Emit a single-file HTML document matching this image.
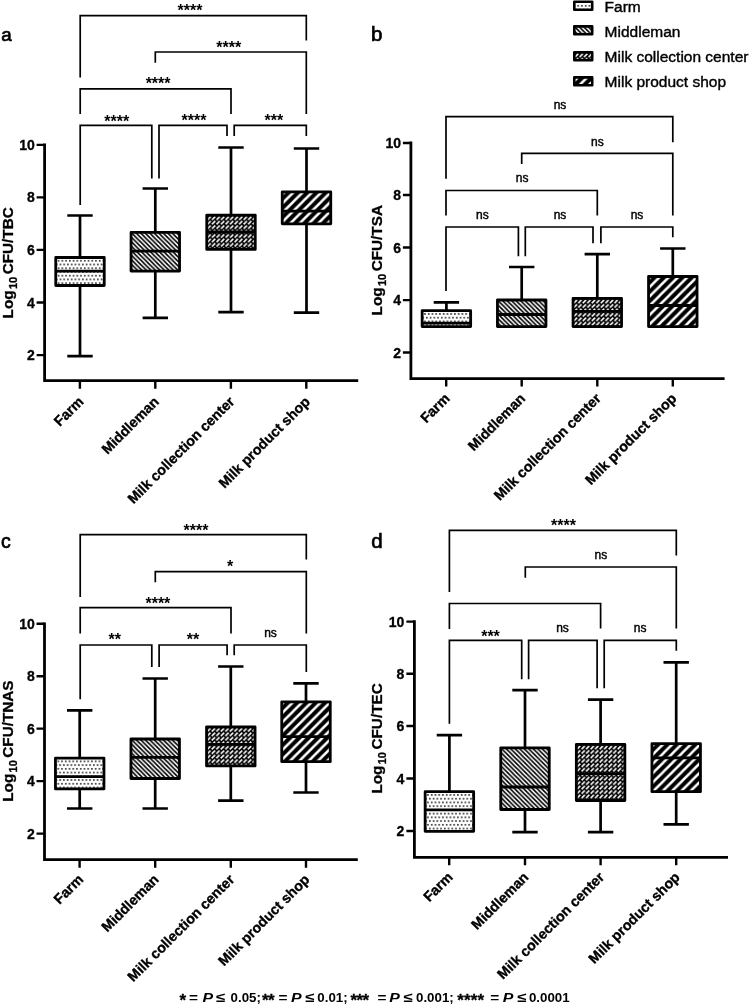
<!DOCTYPE html>
<html lang="en"><head><meta charset="utf-8"><title>Figure</title>
<style>
html,body{margin:0;padding:0;background:#fff;}
body{width:749px;height:1006px;overflow:hidden;}
svg{display:block;filter:grayscale(1);}
text{font-family:"Liberation Sans", sans-serif;fill:#000;}
.w{fill:none;stroke:#000;stroke-width:2.7;stroke-linecap:butt;}
.b{stroke:#000;stroke-width:2.8;stroke-linejoin:round;}
.m{fill:none;stroke:#000;stroke-width:2.8;}
.a{fill:none;stroke:#000;stroke-width:2.8;stroke-linecap:butt;}
.t{fill:none;stroke:#000;stroke-width:2.4;}
.k{fill:none;stroke:#000;stroke-width:1.7;stroke-linejoin:miter;}
.tl{font-size:14px;font-weight:bold;text-anchor:end;stroke:#000;stroke-width:0.3px;}
.yl{font-size:15.3px;font-weight:bold;stroke:#000;stroke-width:0.3px;}
.sub{font-size:11px;}
.xl{font-size:14.2px;font-weight:bold;text-anchor:end;stroke:#000;stroke-width:0.35px;}
.st{font-size:16px;font-weight:bold;text-anchor:middle;}
.ns{font-size:12px;text-anchor:middle;stroke:#000;stroke-width:0.42px;}
.lg{font-size:15.5px;stroke:#000;stroke-width:0.4px;}
.pl{font-size:18.8px;stroke:#000;stroke-width:0.7px;}
.ft{font-size:13.3px;font-weight:bold;}
.fs{font-size:17px;font-weight:bold;stroke:#000;stroke-width:0.3px;}
</style></head><body>
<svg width="749" height="1006" viewBox="0 0 749 1006">
<defs>
<pattern id="pDot" patternUnits="userSpaceOnUse" x="1.98" y="2.38" width="3.74" height="7.46">
<rect width="3.74" height="7.46" fill="#fff"/>
<circle cx="0.85" cy="0.85" r="0.82" fill="#000"/>
<circle cx="2.72" cy="4.58" r="0.82" fill="#000"/>
</pattern>
<pattern id="pBack" patternUnits="userSpaceOnUse" width="4.5" height="4.5">
<rect width="4.5" height="4.5" fill="#fff"/>
<path d="M-1.125 -1.125L5.625 5.625M-1.125 3.375L1.125 5.625M3.375 -1.125L5.625 1.125" stroke="#000" stroke-width="1.6"/>
</pattern>
<pattern id="pDash" patternUnits="userSpaceOnUse" x="0.1" y="0.9" width="4.52" height="4.45">
<rect width="4.52" height="4.45" fill="#000"/>
<path d="M0.6 3.85L3.9 0.55" stroke="#fff" stroke-width="1.6"/>
</pattern>
<pattern id="pFwd" patternUnits="userSpaceOnUse" x="2.35" y="0" width="9.3" height="9.3">
<rect width="9.3" height="9.3" fill="#000"/>
<path d="M-2.325 2.325L2.325 -2.325M-2.325 11.625L11.625 -2.325M6.975 11.625L11.625 6.975" stroke="#fff" stroke-width="2.5"/>
</pattern>
<pattern id="pDotL" href="#pDot" x="3.05" y="3.1"/>
<pattern id="pFwdL" href="#pFwd" x="3.6" y="0"/>
</defs>
<rect width="749" height="1006" fill="#fff"/>

<g id="pa">
<text x="1.3" y="40.7" class="pl">a</text>
<path d="M44.60 143.50V380.70H358.20" class="a" stroke-linejoin="miter"/>
<path d="M36.60 144.90H44.60M36.60 197.40H44.60M36.60 249.90H44.60M36.60 302.50H44.60M36.60 355.10H44.60M79.90 380.70V388.70M155.30 380.70V388.70M230.90 380.70V388.70M306.30 380.70V388.70" class="t"/>
<text x="34.80" y="149.90" class="tl">10</text>
<text x="34.80" y="202.40" class="tl">8</text>
<text x="34.80" y="254.90" class="tl">6</text>
<text x="34.80" y="307.50" class="tl">4</text>
<text x="34.80" y="360.10" class="tl">2</text>
<text transform="translate(13.00 318.40) rotate(-90)" class="yl">Log<tspan class="sub" dx="1.3" dy="3.8">10</tspan><tspan dx="-1.8" dy="-3.8"> CFU/TBC</tspan></text>
<text transform="translate(84.40 402.50) rotate(-45)" class="xl">Farm</text>
<text transform="translate(159.80 402.50) rotate(-45)" class="xl">Middleman</text>
<text transform="translate(235.40 402.50) rotate(-45)" class="xl">Milk collection center</text>
<text transform="translate(310.80 402.50) rotate(-45)" class="xl">Milk product shop</text>
<path d="M67.30 215.50H92.70M80.00 215.50V257.50" class="w"/><path d="M67.30 356.10H92.70M80.00 356.10V285.50" class="w"/><g transform="translate(55.75 257.50)"><rect x="0" y="0" width="48.50" height="28.00" fill="url(#pDot)" class="b"/></g><path d="M55.75 271.20H104.25" class="m"/>
<path d="M142.60 188.50H168.00M155.30 188.50V232.40" class="w"/><path d="M142.60 317.80H168.00M155.30 317.80V271.10" class="w"/><g transform="translate(131.05 232.40)"><rect x="0" y="0" width="48.50" height="38.70" fill="url(#pBack)" class="b"/></g><path d="M131.05 251.20H179.55" class="m"/>
<path d="M218.30 147.50H243.70M231.00 147.50V215.10" class="w"/><path d="M218.30 312.20H243.70M231.00 312.20V249.40" class="w"/><g transform="translate(206.75 215.10)"><rect x="0" y="0" width="48.50" height="34.30" fill="url(#pDash)" class="b"/></g><path d="M206.75 232.00H255.25" class="m"/>
<path d="M293.80 148.50H319.20M306.50 148.50V191.90" class="w"/><path d="M293.80 312.70H319.20M306.50 312.70V223.80" class="w"/><g transform="translate(282.25 191.90)"><rect x="0" y="0" width="48.50" height="31.90" fill="url(#pFwd)" class="b"/></g><path d="M282.25 211.10H330.75" class="m"/>
<path d="M80.20 77.40V15.70H306.30V40.60" class="k"/>
<text x="190.00" y="15.90" class="st">****</text>
<path d="M155.30 62.70V52.00H306.30V114.00" class="k"/>
<text x="228.70" y="53.40" class="st">****</text>
<path d="M80.20 114.00V88.80H231.00V114.00" class="k"/>
<text x="158.10" y="89.40" class="st">****</text>
<path d="M80.20 205.00V125.30H151.80V178.50" class="k"/>
<text x="116.80" y="126.60" class="st">****</text>
<path d="M159.00 178.50V125.30H227.00V136.00" class="k"/>
<text x="194.00" y="126.20" class="st">****</text>
<path d="M234.20 136.00V125.30H306.30V136.00" class="k"/>
<text x="273.80" y="126.00" class="st">***</text>
</g>
<g id="pb">
<text x="370.9" y="40.5" class="pl" style="font-size:20.5px">b</text>
<path d="M410.90 141.60V378.60H724.60" class="a" stroke-linejoin="miter"/>
<path d="M402.90 143.00H410.90M402.90 195.00H410.90M402.90 247.50H410.90M402.90 300.10H410.90M402.90 352.50H410.90M446.20 378.60V386.60M521.70 378.60V386.60M597.30 378.60V386.60M672.80 378.60V386.60" class="t"/>
<text x="401.00" y="148.00" class="tl">10</text>
<text x="401.00" y="200.00" class="tl">8</text>
<text x="401.00" y="252.50" class="tl">6</text>
<text x="401.00" y="305.10" class="tl">4</text>
<text x="401.00" y="357.50" class="tl">2</text>
<text transform="translate(382.40 315.40) rotate(-90)" class="yl">Log<tspan class="sub" dx="1.3" dy="3.8">10</tspan><tspan dx="-1.8" dy="-3.8"> CFU/TSA</tspan></text>
<text transform="translate(450.70 399.30) rotate(-45)" class="xl">Farm</text>
<text transform="translate(526.20 399.30) rotate(-45)" class="xl">Middleman</text>
<text transform="translate(601.80 399.30) rotate(-45)" class="xl">Milk collection center</text>
<text transform="translate(677.30 399.30) rotate(-45)" class="xl">Milk product shop</text>
<path d="M433.70 302.40H459.10M446.40 302.40V310.70" class="w"/><g transform="translate(422.15 310.70)"><rect x="0" y="0" width="48.50" height="15.90" fill="url(#pDot)" class="b"/></g><path d="M422.15 323.20H470.65" class="m"/>
<path d="M509.00 267.00H534.40M521.70 267.00V300.00" class="w"/><g transform="translate(497.45 300.00)"><rect x="0" y="0" width="48.50" height="26.60" fill="url(#pBack)" class="b"/></g><path d="M497.45 314.50H545.95" class="m"/>
<path d="M584.60 254.20H610.00M597.30 254.20V298.40" class="w"/><g transform="translate(573.05 298.40)"><rect x="0" y="0" width="48.50" height="28.20" fill="url(#pDash)" class="b"/></g><path d="M573.05 311.30H621.55" class="m"/>
<path d="M660.10 248.50H685.50M672.80 248.50V276.50" class="w"/><g transform="translate(648.55 276.50)"><rect x="0" y="0" width="48.50" height="50.10" fill="url(#pFwd)" class="b"/></g><path d="M648.55 305.50H697.05" class="m"/>
<path d="M446.00 178.80V116.60H672.80V142.20" class="k"/>
<text x="560.00" y="109.20" class="ns">ns</text>
<path d="M521.70 164.00V153.30H672.80V215.40" class="k"/>
<text x="597.30" y="145.50" class="ns">ns</text>
<path d="M446.00 215.60V190.50H597.30V215.40" class="k"/>
<text x="522.20" y="182.10" class="ns">ns</text>
<path d="M446.00 291.00V227.00H518.40V256.30" class="k"/>
<text x="482.40" y="218.90" class="ns">ns</text>
<path d="M525.30 256.30V227.00H593.00V243.20" class="k"/>
<text x="560.00" y="218.90" class="ns">ns</text>
<path d="M600.90 243.20V227.00H672.80V237.30" class="k"/>
<text x="637.00" y="218.90" class="ns">ns</text>
</g>
<g id="lg">
<g transform="translate(574.3 1.80)"><rect x="0" y="0" width="17.9" height="7.9" fill="url(#pDotL)" stroke="#000" stroke-width="2.6" stroke-linejoin="round"/></g>
<text x="604.6" y="11.65" class="lg">Farm</text>
<g transform="translate(574.3 26.40)"><rect x="0" y="0" width="17.9" height="7.9" fill="url(#pBack)" stroke="#000" stroke-width="2.6" stroke-linejoin="round"/></g>
<text x="604.6" y="36.67" class="lg">Middleman</text>
<g transform="translate(574.3 52.30)"><rect x="0" y="0" width="17.9" height="7.9" fill="url(#pDash)" stroke="#000" stroke-width="2.6" stroke-linejoin="round"/></g>
<text x="604.6" y="61.69" class="lg">Milk collection center</text>
<g transform="translate(574.3 77.40)"><rect x="0" y="0" width="17.9" height="7.9" fill="url(#pFwdL)" stroke="#000" stroke-width="2.6" stroke-linejoin="round"/></g>
<text x="604.6" y="86.71" class="lg">Milk product shop</text>
</g>
<g id="pc">
<text x="0.9" y="547.6" class="pl" style="font-size:19.5px">c</text>
<path d="M44.50 622.40V859.70H357.80" class="a" stroke-linejoin="miter"/>
<path d="M36.50 623.80H44.50M36.50 676.20H44.50M36.50 728.60H44.50M36.50 781.10H44.50M36.50 833.60H44.50M79.60 859.70V867.70M155.20 859.70V867.70M230.80 859.70V867.70M306.00 859.70V867.70" class="t"/>
<text x="34.80" y="628.80" class="tl">10</text>
<text x="34.80" y="681.20" class="tl">8</text>
<text x="34.80" y="733.60" class="tl">6</text>
<text x="34.80" y="786.10" class="tl">4</text>
<text x="34.80" y="838.60" class="tl">2</text>
<text transform="translate(12.80 801.80) rotate(-90)" class="yl">Log<tspan class="sub" dx="1.3" dy="3.8">10</tspan><tspan dx="-1.8" dy="-3.8"> CFU/TNAS</tspan></text>
<text transform="translate(84.10 880.40) rotate(-45)" class="xl">Farm</text>
<text transform="translate(159.70 880.40) rotate(-45)" class="xl">Middleman</text>
<text transform="translate(235.30 880.40) rotate(-45)" class="xl">Milk collection center</text>
<text transform="translate(310.50 880.40) rotate(-45)" class="xl">Milk product shop</text>
<path d="M67.00 710.30H92.40M79.70 710.30V758.10" class="w"/><path d="M67.00 808.50H92.40M79.70 808.50V788.90" class="w"/><g transform="translate(55.45 758.10)"><rect x="0" y="0" width="48.50" height="30.80" fill="url(#pDot)" class="b"/></g><path d="M55.45 776.70H103.95" class="m"/>
<path d="M142.50 678.50H167.90M155.20 678.50V739.00" class="w"/><path d="M142.50 808.50H167.90M155.20 808.50V778.50" class="w"/><g transform="translate(130.95 739.00)"><rect x="0" y="0" width="48.50" height="39.50" fill="url(#pBack)" class="b"/></g><path d="M130.95 757.30H179.45" class="m"/>
<path d="M218.10 666.50H243.50M230.80 666.50V726.80" class="w"/><path d="M218.10 800.70H243.50M230.80 800.70V765.90" class="w"/><g transform="translate(206.55 726.80)"><rect x="0" y="0" width="48.50" height="39.10" fill="url(#pDash)" class="b"/></g><path d="M206.55 744.40H255.05" class="m"/>
<path d="M293.30 683.40H318.70M306.00 683.40V701.80" class="w"/><path d="M293.30 792.50H318.70M306.00 792.50V761.70" class="w"/><g transform="translate(281.75 701.80)"><rect x="0" y="0" width="48.50" height="59.90" fill="url(#pFwd)" class="b"/></g><path d="M281.75 736.60H330.25" class="m"/>
<path d="M80.20 597.00V534.60H306.30V559.50" class="k"/>
<text x="196.00" y="535.90" class="st">****</text>
<path d="M155.30 582.30V571.70H306.30V633.60" class="k"/>
<text x="230.20" y="572.40" class="st">*</text>
<path d="M80.20 633.60V607.70H231.00V633.40" class="k"/>
<text x="157.90" y="609.00" class="st">****</text>
<path d="M80.20 699.20V645.00H151.80V666.90" class="k"/>
<text x="114.70" y="645.40" class="st">**</text>
<path d="M159.10 666.90V645.00H227.10V655.30" class="k"/>
<text x="193.10" y="645.40" class="st">**</text>
<path d="M234.20 655.30V645.00H306.30V672.00" class="k"/>
<text x="270.50" y="636.80" class="ns">ns</text>
</g>
<g id="pd">
<text x="371.3" y="548.0" class="pl" style="font-size:20.5px">d</text>
<path d="M414.40 620.20V857.30H728.00" class="a" stroke-linejoin="miter"/>
<path d="M406.40 621.60H414.40M406.40 673.70H414.40M406.40 726.00H414.40M406.40 778.50H414.40M406.40 831.00H414.40M449.20 857.30V865.30M525.00 857.30V865.30M600.60 857.30V865.30M676.20 857.30V865.30" class="t"/>
<text x="404.30" y="626.60" class="tl">10</text>
<text x="404.30" y="678.70" class="tl">8</text>
<text x="404.30" y="731.00" class="tl">6</text>
<text x="404.30" y="783.50" class="tl">4</text>
<text x="404.30" y="836.00" class="tl">2</text>
<text transform="translate(382.40 793.60) rotate(-90)" class="yl">Log<tspan class="sub" dx="1.3" dy="3.8">10</tspan><tspan dx="-1.8" dy="-3.8"> CFU/TEC</tspan></text>
<text transform="translate(453.70 878.00) rotate(-45)" class="xl">Farm</text>
<text transform="translate(529.50 878.00) rotate(-45)" class="xl">Middleman</text>
<text transform="translate(605.10 878.00) rotate(-45)" class="xl">Milk collection center</text>
<text transform="translate(680.70 878.00) rotate(-45)" class="xl">Milk product shop</text>
<path d="M436.70 735.10H462.10M449.40 735.10V791.70" class="w"/><g transform="translate(425.15 791.70)"><rect x="0" y="0" width="48.50" height="39.60" fill="url(#pDot)" class="b"/></g><path d="M425.15 809.80H473.65" class="m"/>
<path d="M512.30 690.10H537.70M525.00 690.10V747.80" class="w"/><path d="M512.30 832.20H537.70M525.00 832.20V809.50" class="w"/><g transform="translate(500.75 747.80)"><rect x="0" y="0" width="48.50" height="61.70" fill="url(#pBack)" class="b"/></g><path d="M500.75 787.00H549.25" class="m"/>
<path d="M587.90 699.70H613.30M600.60 699.70V744.40" class="w"/><path d="M587.90 832.10H613.30M600.60 832.10V800.50" class="w"/><g transform="translate(576.35 744.40)"><rect x="0" y="0" width="48.50" height="56.10" fill="url(#pDash)" class="b"/></g><path d="M576.35 773.70H624.85" class="m"/>
<path d="M663.50 662.40H688.90M676.20 662.40V743.70" class="w"/><path d="M663.50 824.30H688.90M676.20 824.30V791.70" class="w"/><g transform="translate(651.95 743.70)"><rect x="0" y="0" width="48.50" height="48.00" fill="url(#pFwd)" class="b"/></g><path d="M651.95 757.90H700.45" class="m"/>
<path d="M449.40 592.00V530.40H676.30V555.50" class="k"/>
<text x="563.50" y="530.90" class="st">****</text>
<path d="M525.30 577.80V567.00H676.30V628.60" class="k"/>
<text x="600.90" y="559.20" class="ns">ns</text>
<path d="M449.40 628.90V603.50H600.60V628.60" class="k"/>
<path d="M449.40 723.70V640.40H521.70V679.30" class="k"/>
<text x="490.50" y="641.60" class="st">***</text>
<path d="M528.60 679.30V640.40H597.10V688.30" class="k"/>
<text x="562.50" y="631.90" class="ns">ns</text>
<path d="M604.20 688.30V640.40H676.30V650.80" class="k"/>
<text x="640.20" y="631.90" class="ns">ns</text>
</g>
<g id="ft">
<text x="179.60" y="1006.20" class="fs" textLength="6.60" lengthAdjust="spacing">*</text>
<text x="189.00" y="1001.90" class="ft" textLength="9.00" lengthAdjust="spacingAndGlyphs">=</text>
<text x="202.60" y="1001.90" class="ft" textLength="10.60" lengthAdjust="spacingAndGlyphs" font-style="italic">P</text>
<text x="216.00" y="1001.90" class="ft" textLength="9.20" lengthAdjust="spacingAndGlyphs">≤</text>
<text x="230.60" y="1001.90" class="ft">0.05;</text>
<text x="262.00" y="1006.20" class="fs" textLength="12.60" lengthAdjust="spacing">**</text>
<text x="278.60" y="1001.90" class="ft" textLength="9.00" lengthAdjust="spacingAndGlyphs">=</text>
<text x="291.00" y="1001.90" class="ft" textLength="10.60" lengthAdjust="spacingAndGlyphs" font-style="italic">P</text>
<text x="305.20" y="1001.90" class="ft" textLength="9.20" lengthAdjust="spacingAndGlyphs">≤</text>
<text x="317.30" y="1001.90" class="ft">0.01;</text>
<text x="350.40" y="1006.20" class="fs" textLength="18.60" lengthAdjust="spacing">***</text>
<text x="377.60" y="1001.90" class="ft" textLength="9.00" lengthAdjust="spacingAndGlyphs">=</text>
<text x="389.20" y="1001.90" class="ft" textLength="10.60" lengthAdjust="spacingAndGlyphs" font-style="italic">P</text>
<text x="403.60" y="1001.90" class="ft" textLength="9.20" lengthAdjust="spacingAndGlyphs">≤</text>
<text x="416.00" y="1001.90" class="ft">0.001;</text>
<text x="457.20" y="1006.20" class="fs" textLength="26.80" lengthAdjust="spacing">****</text>
<text x="490.30" y="1001.90" class="ft" textLength="9.00" lengthAdjust="spacingAndGlyphs">=</text>
<text x="502.80" y="1001.90" class="ft" textLength="10.60" lengthAdjust="spacingAndGlyphs" font-style="italic">P</text>
<text x="517.20" y="1001.90" class="ft" textLength="9.20" lengthAdjust="spacingAndGlyphs">≤</text>
<text x="528.90" y="1001.90" class="ft">0.0001</text>
</g>
</svg></body></html>
